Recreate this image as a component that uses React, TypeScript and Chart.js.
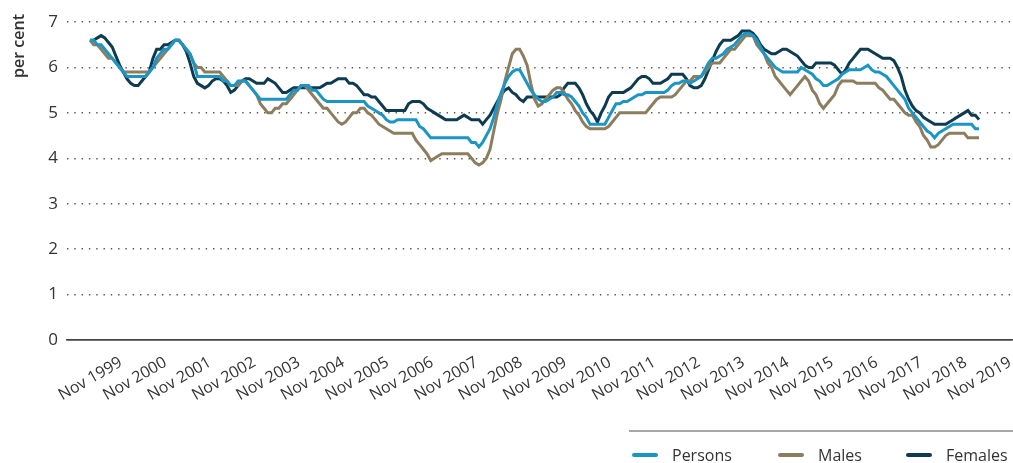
import React, { useEffect, useRef } from "react";
import { Chart, registerables } from "chart.js";

Chart.register(...registerables);

// Monthly observations, Nov 1999 .. Nov 2019 (one row per year, Nov..Oct)
const TICK_LABELS = [
  "Nov 1999", "Nov 2000", "Nov 2001", "Nov 2002", "Nov 2003", "Nov 2004", "Nov 2005",
  "Nov 2006", "Nov 2007", "Nov 2008", "Nov 2009", "Nov 2010", "Nov 2011", "Nov 2012",
  "Nov 2013", "Nov 2014", "Nov 2015", "Nov 2016", "Nov 2017", "Nov 2018", "Nov 2019",
];
const SERIES_LABELS = ["Persons", "Males", "Females"];
const Y_TICKS = [0, 1, 2, 3, 4, 5, 6, 7];

const PERSONS = [
  6.6, 6.6, 6.5, 6.5, 6.4, 6.3, 6.2, 6.1, 6.0, 5.9, 5.8, 5.8,
  5.8, 5.8, 5.8, 5.8, 5.9, 6.0, 6.2, 6.3, 6.4, 6.4, 6.5, 6.6,
  6.6, 6.5, 6.4, 6.3, 6.1, 5.8, 5.8, 5.8, 5.8, 5.8, 5.8, 5.8,
  5.7, 5.7, 5.6, 5.6, 5.7, 5.7, 5.7, 5.6, 5.5, 5.4, 5.3, 5.3,
  5.3, 5.3, 5.3, 5.3, 5.3, 5.3, 5.4, 5.5, 5.5, 5.6, 5.6, 5.6,
  5.5, 5.5, 5.4, 5.3, 5.25, 5.25, 5.25, 5.25, 5.25, 5.25, 5.25, 5.25,
  5.25, 5.25, 5.25, 5.15, 5.1, 5.05, 5.0, 4.95, 4.85, 4.8, 4.8, 4.85,
  4.85, 4.85, 4.85, 4.85, 4.85, 4.7, 4.65, 4.55, 4.45, 4.45, 4.45, 4.45,
  4.45, 4.45, 4.45, 4.45, 4.45, 4.45, 4.45, 4.35, 4.35, 4.25, 4.35, 4.5,
  4.65, 4.9, 5.2, 5.45, 5.65, 5.8, 5.9, 5.95, 5.95, 5.8, 5.65, 5.5,
  5.4, 5.3, 5.25, 5.25, 5.3, 5.35, 5.45, 5.45, 5.4, 5.4, 5.35, 5.25,
  5.15, 5.0, 4.9, 4.75, 4.75, 4.75, 4.75, 4.75, 4.9, 5.05, 5.2, 5.2,
  5.25, 5.25, 5.3, 5.35, 5.4, 5.4, 5.45, 5.45, 5.45, 5.45, 5.45, 5.45,
  5.5, 5.6, 5.65, 5.65, 5.7, 5.7, 5.65, 5.7, 5.75, 5.8, 5.95, 6.1,
  6.2, 6.2, 6.25, 6.3, 6.4, 6.45, 6.5, 6.6, 6.7, 6.75, 6.75, 6.7,
  6.6, 6.45, 6.3, 6.2, 6.1, 6.0, 5.95, 5.9, 5.9, 5.9, 5.9, 5.9,
  6.0, 5.95, 5.9, 5.85, 5.75, 5.7, 5.6, 5.6, 5.65, 5.7, 5.75, 5.85,
  5.9, 5.95, 5.95, 5.95, 5.95, 6.0, 6.05, 5.95, 5.9, 5.9, 5.85, 5.8,
  5.7, 5.6, 5.5, 5.4, 5.3, 5.1, 5.0, 4.9, 4.8, 4.7, 4.6, 4.55,
  4.45, 4.55, 4.6, 4.65, 4.7, 4.75, 4.75, 4.75, 4.75, 4.75, 4.75, 4.65,
  4.65,
];

const MALES = [
  6.6, 6.5, 6.5, 6.4, 6.3, 6.2, 6.2, 6.1, 6.0, 5.9, 5.9, 5.9,
  5.9, 5.9, 5.9, 5.9, 5.9, 6.0, 6.1, 6.2, 6.3, 6.4, 6.5, 6.6,
  6.6, 6.5, 6.4, 6.3, 6.1, 6.0, 6.0, 5.9, 5.9, 5.9, 5.9, 5.9,
  5.8, 5.7, 5.6, 5.6, 5.6, 5.7, 5.7, 5.6, 5.5, 5.4, 5.2, 5.1,
  5.0, 5.0, 5.1, 5.1, 5.2, 5.2, 5.3, 5.4, 5.5, 5.6, 5.6, 5.5,
  5.4, 5.3, 5.2, 5.1, 5.1, 5.0, 4.9, 4.8, 4.75, 4.8, 4.9, 5.0,
  5.0, 5.1, 5.1, 5.0, 4.95, 4.85, 4.75, 4.7, 4.65, 4.6, 4.55, 4.55,
  4.55, 4.55, 4.55, 4.55, 4.4, 4.3, 4.2, 4.1, 3.95, 4.0, 4.05, 4.1,
  4.1, 4.1, 4.1, 4.1, 4.1, 4.1, 4.1, 4.0, 3.9, 3.85, 3.9, 4.0,
  4.2, 4.6, 5.0, 5.3, 5.7, 6.0, 6.3, 6.4, 6.4, 6.25, 6.05, 5.65,
  5.3, 5.15, 5.2, 5.3, 5.4, 5.5, 5.55, 5.55, 5.45, 5.3, 5.2, 5.05,
  4.95, 4.8, 4.7, 4.65, 4.65, 4.65, 4.65, 4.65, 4.7, 4.8, 4.9, 5.0,
  5.0, 5.0, 5.0, 5.0, 5.0, 5.0, 5.0, 5.1, 5.2, 5.3, 5.35, 5.35,
  5.35, 5.35, 5.4, 5.5, 5.6, 5.7, 5.7, 5.8, 5.8, 5.8, 5.9, 6.0,
  6.1, 6.1, 6.1, 6.2, 6.3, 6.4, 6.4, 6.5, 6.6, 6.7, 6.7, 6.7,
  6.5, 6.4, 6.3, 6.1, 6.0, 5.8, 5.7, 5.6, 5.5, 5.4, 5.5, 5.6,
  5.7, 5.8, 5.7, 5.5, 5.4, 5.2, 5.1, 5.2, 5.3, 5.4, 5.6, 5.7,
  5.7, 5.7, 5.7, 5.65, 5.65, 5.65, 5.65, 5.65, 5.65, 5.55, 5.5, 5.4,
  5.3, 5.3, 5.2, 5.1, 5.0, 4.95, 4.95, 4.8, 4.7, 4.5, 4.4, 4.25,
  4.25, 4.3, 4.4, 4.5, 4.55, 4.55, 4.55, 4.55, 4.55, 4.45, 4.45, 4.45,
  4.45,
];

const FEMALES = [
  6.6, 6.6, 6.65, 6.7, 6.65, 6.55, 6.45, 6.25, 6.05, 5.9, 5.75, 5.65,
  5.6, 5.6, 5.7, 5.8, 5.9, 6.2, 6.4, 6.4, 6.5, 6.5, 6.55, 6.6,
  6.6, 6.5, 6.35, 6.1, 5.8, 5.65, 5.6, 5.55, 5.6, 5.7, 5.75, 5.75,
  5.7, 5.6, 5.45, 5.5, 5.6, 5.7, 5.75, 5.75, 5.7, 5.65, 5.65, 5.65,
  5.75, 5.7, 5.65, 5.55, 5.45, 5.45, 5.5, 5.55, 5.55, 5.55, 5.55, 5.55,
  5.55, 5.55, 5.55, 5.6, 5.65, 5.65, 5.7, 5.75, 5.75, 5.75, 5.65, 5.65,
  5.6, 5.5, 5.4, 5.4, 5.35, 5.35, 5.25, 5.15, 5.05, 5.05, 5.05, 5.05,
  5.05, 5.05, 5.2, 5.25, 5.25, 5.25, 5.2, 5.1, 5.05, 5.0, 4.95, 4.9,
  4.85, 4.85, 4.85, 4.85, 4.9, 4.95, 4.9, 4.85, 4.85, 4.85, 4.75, 4.85,
  4.95, 5.1, 5.25, 5.4, 5.5, 5.55, 5.45, 5.4, 5.3, 5.25, 5.35, 5.35,
  5.35, 5.35, 5.35, 5.35, 5.35, 5.35, 5.35, 5.4, 5.55, 5.65, 5.65, 5.65,
  5.55, 5.4, 5.2, 5.05, 4.95, 4.8, 5.0, 5.15, 5.35, 5.45, 5.45, 5.45,
  5.45, 5.5, 5.55, 5.65, 5.75, 5.8, 5.8, 5.75, 5.65, 5.65, 5.65, 5.7,
  5.75, 5.85, 5.85, 5.85, 5.85, 5.75, 5.6, 5.55, 5.55, 5.6, 5.75, 5.95,
  6.15, 6.35, 6.5, 6.6, 6.6, 6.6, 6.65, 6.7, 6.8, 6.8, 6.8, 6.75,
  6.65, 6.5, 6.4, 6.35, 6.3, 6.3, 6.35, 6.4, 6.4, 6.35, 6.3, 6.25,
  6.15, 6.05, 6.0, 6.0, 6.1, 6.1, 6.1, 6.1, 6.1, 6.05, 5.95, 5.85,
  5.95, 6.1, 6.2, 6.3, 6.4, 6.4, 6.4, 6.35, 6.3, 6.25, 6.2, 6.2,
  6.2, 6.15, 6.0, 5.8, 5.5, 5.3, 5.15, 5.05, 5.0, 4.9, 4.85, 4.8,
  4.75, 4.75, 4.75, 4.75, 4.8, 4.85, 4.9, 4.95, 5.0, 5.05, 4.95, 4.95,
  4.85,
];

const SERIES_COLORS = ["#1b95c4", "#8c7d5e", "#0e3b50"];
const FONT = '"Open Sans", "DejaVu Sans", sans-serif';
const TEXT_COLOR = "#333333";
const LEGEND_X = [632, 778, 906];

export default function App() {
  const ref = useRef<HTMLCanvasElement>(null);

  useEffect(() => {
    document.body.style.margin = "0";
    const canvas = ref.current;
    if (!canvas) return;

    const tickIdx = TICK_LABELS.map((_, k) => k * 12);
    const toPoints = (arr: number[]) => arr.map((v, i) => ({ x: i, y: v }));
    const seriesData = [PERSONS, MALES, FEMALES];

    const yTitlePlugin = {
      id: "yTitle",
      afterDraw(chart: any) {
        const ctx = chart.ctx;
        ctx.save();
        ctx.translate(19, 14);
        ctx.rotate(-Math.PI / 2);
        ctx.textAlign = "right";
        ctx.textBaseline = "middle";
        ctx.fillStyle = TEXT_COLOR;
        ctx.font = `600 16px ${FONT}`;
        ctx.fillText("per cent", 0, 0);
        ctx.restore();
      },
    };

    const legendPlugin = {
      id: "ruleLegend",
      afterDraw(chart: any) {
        const ctx = chart.ctx;
        ctx.save();
        ctx.strokeStyle = "#8a8a8a";
        ctx.lineWidth = 1.5;
        ctx.beginPath();
        ctx.moveTo(629, 431);
        ctx.lineTo(1013, 431);
        ctx.stroke();
        chart.data.datasets.forEach((ds: any, k: number) => {
          const x = LEGEND_X[k];
          ctx.strokeStyle = ds.borderColor;
          ctx.lineWidth = 4;
          ctx.lineCap = "round";
          ctx.beginPath();
          ctx.moveTo(x + 2, 455);
          ctx.lineTo(x + 24, 455);
          ctx.stroke();
          ctx.fillStyle = TEXT_COLOR;
          ctx.font = `16px ${FONT}`;
          ctx.textAlign = "left";
          ctx.textBaseline = "alphabetic";
          ctx.fillText(ds.label, x + 40, 461);
        });
        ctx.restore();
      },
    };

    const chart = new Chart(canvas, {
      type: "line",
      data: {
        datasets: SERIES_LABELS.map((label, k) => ({
          label,
          data: toPoints(seriesData[k]),
          borderColor: SERIES_COLORS[k],
          backgroundColor: SERIES_COLORS[k],
          borderWidth: 3,
          pointRadius: 0,
          tension: 0,
          fill: false,
        })),
      },
      options: {
        responsive: false,
        animation: false,
        devicePixelRatio: 1,
        layout: { padding: { top: 22, right: 1, left: 0, bottom: 0 } },
        plugins: {
          legend: { display: false },
          tooltip: { enabled: false },
        },
        scales: {
          x: {
            type: "linear",
            bounds: "data",
            min: -6.2,
            max: 248.9,
            grid: { display: false, drawTicks: false },
            border: { display: true, color: "#444444", width: 1.5 },
            afterBuildTicks: (axis: any) => {
              axis.ticks = tickIdx.map((v) => ({ value: v }));
            },
            afterFit: (s: any) => {
              s.height = 123;
            },
            ticks: {
              autoSkip: false,
              minRotation: 30,
              maxRotation: 30,
              labelOffset: 31,
              padding: 13,
              color: TEXT_COLOR,
              font: { family: FONT, size: 16 },
              callback: (v: any) => {
                const k = tickIdx.indexOf(Number(v));
                return k >= 0 ? TICK_LABELS[k] : "";
              },
            },
          },
          y: {
            min: Y_TICKS[0],
            max: Y_TICKS[Y_TICKS.length - 1],
            afterFit: (s: any) => {
              s.width = 67;
            },
            grid: {
              drawTicks: false,
              color: (c: any) => (c.tick && c.tick.value === 0 ? "#444444" : "#555555"),
              lineWidth: (c: any) => (c.tick && c.tick.value === 0 ? 1.5 : 1.4),
            },
            border: {
              display: false,
              dash: (c: any) => (c.tick && c.tick.value === 0 ? [] : [1.4, 5.9]),
            },
            ticks: {
              stepSize: 1,
              padding: 9,
              color: TEXT_COLOR,
              font: { family: FONT, size: 17 },
            },
          },
        },
      } as any,
      plugins: [yTitlePlugin, legendPlugin],
    });

    return () => chart.destroy();
  }, []);

  return (
    <div style={{ width: 1013, height: 463 }}>
      <canvas ref={ref} width={1013} height={463} style={{ display: "block" }} />
    </div>
  );
}
